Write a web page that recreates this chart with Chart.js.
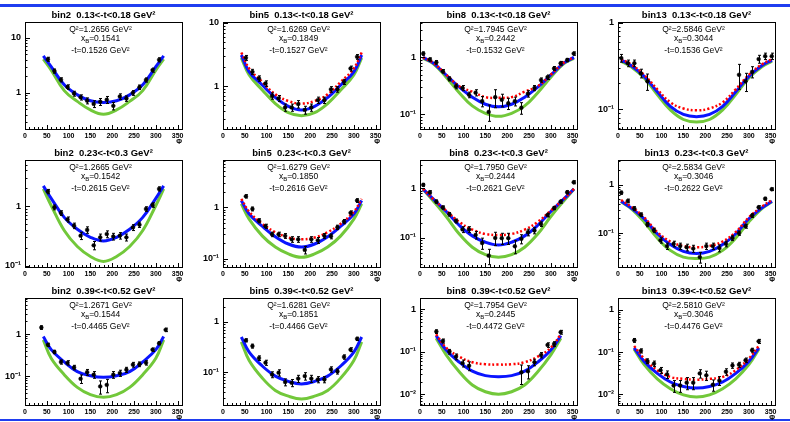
<!DOCTYPE html>
<html>
<head>
<meta charset="utf-8">
<script src="https://cdn.jsdelivr.net/npm/chart.js@4.4.0/dist/chart.umd.min.js"></script>
<style>
  html, body { margin: 0; padding: 0; background: #fff; }
  #page { position: relative; width: 790px; height: 422px; overflow: hidden; background: #fff; }
  #page canvas { position: absolute; }
  .rule { position: absolute; left: 0; width: 790px; background: #1f3df0; }
</style>
</head>
<body>
<div id="page">
  <div class="rule" style="top:4px;height:3px"></div>
  <div class="rule" style="top:419px;height:2px"></div>
</div>
<script>
// phi bin centres (deg)
const phiNarrow = [52.5, 67.5, 82.5, 97.5, 112.5, 127.5, 142.5, 157.5, 172.5, 187.5, 202.5, 217.5, 232.5, 247.5, 262.5, 277.5, 292.5, 307.5];
const phiWide = [7.5, 22.5, 37.5, 52.5, 67.5, 82.5, 97.5, 112.5, 127.5, 142.5, 157.5, 172.5, 187.5, 202.5, 217.5, 232.5, 247.5, 262.5, 277.5, 292.5, 307.5, 322.5, 337.5, 352.5];
const phiMid = [37.5, 52.5, 67.5, 82.5, 97.5, 112.5, 127.5, 142.5, 157.5, 172.5, 187.5, 202.5, 217.5, 232.5, 247.5, 262.5, 277.5, 292.5, 307.5, 322.5];
const phiB13t1 = [7.5, 22.5, 37.5, 52.5, 67.5, 277.5, 292.5, 307.5, 322.5, 337.5, 352.5];
const phiB8t3 = [37.5, 52.5, 67.5, 82.5, 97.5, 112.5, 232.5, 247.5, 262.5, 277.5, 292.5, 307.5, 322.5];

// phi nodes for the model curves
const curvePhiNarrow = [42, 60, 90, 120, 150, 180, 210, 240, 270, 300, 318];
const curvePhiFull = [7, 30, 60, 90, 120, 150, 180, 210, 240, 270, 300, 330, 353];
const curvePhiMid = [37, 60, 90, 120, 150, 180, 210, 240, 270, 300, 323];

// bin2, 0.13<-t<0.18
const b2t1Y = [4.1, 2.5, 1.73, 1.28, 0.97, 0.83, 0.72, 0.63, 0.69, 0.75, 0.58, 0.86, 0.79, 1.0, 1.27, 1.72, 2.6, 4.0];
const b2t1Err = [0.35, 0.22, 0.15, 0.12, 0.1, 0.09, 0.09, 0.09, 0.1, 0.11, 0.09, 0.1, 0.09, 0.1, 0.12, 0.15, 0.22, 0.35];
const b2t1Blue = [4.7, 3.0, 1.4, 0.92, 0.72, 0.67, 0.72, 0.92, 1.4, 3.0, 4.7];
const b2t1Green = [4.1, 2.6, 1.1, 0.7, 0.49, 0.41, 0.49, 0.7, 1.1, 2.6, 4.1];

// bin5, 0.13<-t<0.18
const b5t1Y = [2.8, 1.68, 1.32, 1.1, 0.7, 0.64, 0.46, 0.46, 0.52, 0.42, 0.46, 0.6, 0.6, 0.89, 0.89, 1.17, 1.9, 2.9];
const b5t1Err = [0.25, 0.16, 0.13, 0.11, 0.08, 0.07, 0.06, 0.06, 0.07, 0.06, 0.06, 0.07, 0.07, 0.09, 0.09, 0.11, 0.17, 0.25];
const b5t1Blue = [3.1, 1.68, 1.04, 0.66, 0.48, 0.42, 0.48, 0.66, 1.04, 1.68, 3.1];
const b5t1Red = [3.4, 1.9, 1.17, 0.74, 0.58, 0.53, 0.58, 0.74, 1.17, 1.9, 3.4];
const b5t1Green = [2.8, 1.5, 0.87, 0.53, 0.38, 0.34, 0.38, 0.53, 0.87, 1.5, 2.8];

// bin8, 0.13<-t<0.18
const b8t1Y = [1.17, 0.92, 0.82, 0.57, 0.42, 0.31, 0.29, 0.22, 0.24, 0.17, 0.11, 0.2, 0.18, 0.156, 0.17, 0.13, 0.23, 0.29, 0.4, 0.45, 0.64, 0.79, 0.9, 1.17];
const b8t1Err = [0.08, 0.06, 0.06, 0.04, 0.035, 0.03, 0.03, 0.025, 0.03, 0.035, 0.035, 0.07, 0.045, 0.035, 0.03, 0.03, 0.03, 0.03, 0.035, 0.04, 0.05, 0.06, 0.06, 0.08];
const b8t1Blue = [1.0, 0.8, 0.49, 0.3, 0.2, 0.15, 0.135, 0.15, 0.2, 0.3, 0.49, 0.8, 1.0];
const b8t1Red = [1.0, 0.81, 0.5, 0.31, 0.25, 0.2, 0.195, 0.2, 0.25, 0.31, 0.5, 0.81, 1.0];
const b8t1Green = [0.96, 0.78, 0.45, 0.24, 0.14, 0.104, 0.092, 0.104, 0.14, 0.24, 0.45, 0.78, 0.96];

// bin13, 0.13<-t<0.18
const b13t1Y = [0.39, 0.34, 0.34, 0.26, 0.21, 0.25, 0.21, 0.27, 0.38, 0.41, 0.41];
const b13t1Err = [0.04, 0.03, 0.03, 0.03, 0.045, 0.08, 0.05, 0.04, 0.04, 0.035, 0.035];
const b13t1Blue = [0.37, 0.32, 0.24, 0.159, 0.108, 0.087, 0.082, 0.087, 0.108, 0.159, 0.24, 0.32, 0.37];
const b13t1Red = [0.38, 0.33, 0.25, 0.17, 0.12, 0.102, 0.097, 0.102, 0.12, 0.17, 0.25, 0.33, 0.38];
const b13t1Green = [0.36, 0.31, 0.23, 0.148, 0.098, 0.076, 0.071, 0.076, 0.098, 0.148, 0.23, 0.31, 0.36];

// bin2, 0.23<-t<0.3
const b2t2Y = [1.77, 0.96, 0.77, 0.6, 0.47, 0.32, 0.4, 0.22, 0.3, 0.34, 0.31, 0.32, 0.3, 0.44, 0.49, 0.9, 1.05, 1.96];
const b2t2Err = [0.15, 0.09, 0.07, 0.06, 0.05, 0.045, 0.05, 0.035, 0.04, 0.045, 0.04, 0.04, 0.04, 0.05, 0.05, 0.08, 0.09, 0.16];
const b2t2Blue = [2.2, 1.36, 0.65, 0.41, 0.3, 0.26, 0.3, 0.41, 0.65, 1.36, 2.2];
const b2t2Green = [1.96, 1.03, 0.39, 0.21, 0.143, 0.118, 0.143, 0.21, 0.39, 1.03, 1.96];

// bin5, 0.23<-t<0.3
const b5t2Y = [1.63, 0.93, 0.55, 0.43, 0.3, 0.3, 0.28, 0.24, 0.24, 0.15, 0.24, 0.23, 0.28, 0.275, 0.41, 0.53, 0.78, 1.35];
const b5t2Err = [0.12, 0.08, 0.05, 0.04, 0.03, 0.03, 0.03, 0.03, 0.03, 0.025, 0.03, 0.03, 0.03, 0.03, 0.04, 0.05, 0.07, 0.11];
const b5t2Blue = [1.35, 0.74, 0.43, 0.27, 0.195, 0.17, 0.195, 0.27, 0.43, 0.74, 1.35];
const b5t2Red = [1.45, 0.82, 0.48, 0.33, 0.26, 0.24, 0.26, 0.33, 0.48, 0.82, 1.45];
const b5t2Green = [1.16, 0.59, 0.28, 0.17, 0.125, 0.108, 0.125, 0.17, 0.28, 0.59, 1.16];

// bin8, 0.23<-t<0.3
const b8t2Y = [1.17, 0.83, 0.54, 0.41, 0.3, 0.22, 0.148, 0.148, 0.115, 0.079, 0.044, 0.1, 0.099, 0.099, 0.068, 0.096, 0.13, 0.141, 0.19, 0.29, 0.4, 0.54, 0.83, 1.32];
const b8t2Err = [0.08, 0.06, 0.04, 0.03, 0.025, 0.02, 0.02, 0.02, 0.02, 0.02, 0.015, 0.03, 0.025, 0.025, 0.02, 0.02, 0.02, 0.02, 0.02, 0.025, 0.03, 0.04, 0.06, 0.09];
const b8t2Blue = [0.97, 0.61, 0.34, 0.18, 0.11, 0.082, 0.072, 0.082, 0.11, 0.18, 0.34, 0.61, 0.97];
const b8t2Red = [0.97, 0.61, 0.355, 0.21, 0.147, 0.12, 0.115, 0.12, 0.147, 0.21, 0.355, 0.61, 0.97];
const b8t2Green = [0.95, 0.56, 0.27, 0.12, 0.065, 0.046, 0.041, 0.046, 0.065, 0.12, 0.27, 0.56, 0.95];

// bin13, 0.23<-t<0.3
const b13t2Y = [0.68, 0.46, 0.32, 0.24, 0.15, 0.114, 0.071, 0.054, 0.06, 0.054, 0.051, 0.048, 0.032, 0.054, 0.054, 0.049, 0.06, 0.079, 0.1, 0.139, 0.23, 0.34, 0.51, 0.8];
const b13t2Err = [0.05, 0.04, 0.03, 0.02, 0.015, 0.012, 0.009, 0.008, 0.008, 0.008, 0.008, 0.008, 0.008, 0.008, 0.008, 0.008, 0.008, 0.009, 0.01, 0.013, 0.02, 0.025, 0.035, 0.05];
const b13t2Blue = [0.45, 0.33, 0.197, 0.097, 0.058, 0.042, 0.038, 0.042, 0.058, 0.097, 0.197, 0.33, 0.45];
const b13t2Red = [0.48, 0.35, 0.21, 0.105, 0.067, 0.054, 0.051, 0.054, 0.067, 0.105, 0.21, 0.35, 0.48];
const b13t2Green = [0.44, 0.32, 0.17, 0.079, 0.044, 0.032, 0.03, 0.032, 0.044, 0.079, 0.17, 0.32, 0.44];

// bin2, 0.39<-t<0.52
const b2t3Y = [1.44, 0.56, 0.38, 0.22, 0.21, 0.163, 0.088, 0.126, 0.11, 0.058, 0.063, 0.11, 0.12, 0.144, 0.19, 0.195, 0.21, 0.43, 0.61, 1.27];
const b2t3Err = [0.14, 0.05, 0.035, 0.025, 0.025, 0.02, 0.02, 0.02, 0.02, 0.02, 0.022, 0.02, 0.02, 0.02, 0.025, 0.025, 0.025, 0.04, 0.05, 0.12];
const b2t3Blue = [0.88, 0.43, 0.22, 0.13, 0.104, 0.095, 0.104, 0.13, 0.22, 0.43, 0.88];
const b2t3Green = [0.73, 0.27, 0.11, 0.055, 0.037, 0.032, 0.037, 0.055, 0.11, 0.27, 0.73];

// bin5, 0.39<-t<0.52
const b5t3Y = [0.43, 0.33, 0.19, 0.154, 0.089, 0.097, 0.063, 0.061, 0.074, 0.083, 0.074, 0.071, 0.071, 0.113, 0.103, 0.2, 0.28, 0.46];
const b5t3Err = [0.03, 0.03, 0.02, 0.018, 0.012, 0.014, 0.01, 0.01, 0.012, 0.014, 0.012, 0.01, 0.01, 0.014, 0.012, 0.02, 0.025, 0.035];
const b5t3Blue = [0.5, 0.25, 0.132, 0.083, 0.065, 0.058, 0.065, 0.083, 0.132, 0.25, 0.5];
const b5t3Green = [0.4, 0.17, 0.076, 0.043, 0.033, 0.029, 0.033, 0.043, 0.076, 0.17, 0.4];

// bin8, 0.39<-t<0.52
const b8t3Y = [0.3, 0.18, 0.101, 0.077, 0.054, 0.047, 0.033, 0.035, 0.057, 0.084, 0.145, 0.153, 0.29];
const b8t3Err = [0.03, 0.02, 0.013, 0.012, 0.01, 0.011, 0.016, 0.012, 0.01, 0.012, 0.018, 0.02, 0.03];
const b8t3Blue = [0.24, 0.11, 0.057, 0.035, 0.0275, 0.026, 0.0275, 0.035, 0.057, 0.11, 0.24];
const b8t3Red = [0.26, 0.125, 0.077, 0.057, 0.051, 0.05, 0.051, 0.057, 0.077, 0.125, 0.26];
const b8t3Green = [0.21, 0.085, 0.034, 0.0166, 0.0115, 0.01, 0.0115, 0.0166, 0.034, 0.085, 0.21];

// bin13, 0.39<-t<0.52
const b13t3Y = [0.19, 0.107, 0.061, 0.053, 0.037, 0.0295, 0.016, 0.016, 0.0187, 0.0187, 0.031, 0.028, 0.0167, 0.021, 0.034, 0.048, 0.05, 0.064, 0.111, 0.18];
const b13t3Err = [0.02, 0.012, 0.008, 0.008, 0.006, 0.006, 0.005, 0.005, 0.006, 0.006, 0.007, 0.007, 0.005, 0.005, 0.006, 0.007, 0.007, 0.008, 0.012, 0.02];
const b13t3Blue = [0.126, 0.06, 0.031, 0.0194, 0.0152, 0.0139, 0.0152, 0.0194, 0.031, 0.06, 0.126];
const b13t3Red = [0.14, 0.07, 0.037, 0.0255, 0.023, 0.022, 0.023, 0.0255, 0.037, 0.07, 0.14];
const b13t3Green = [0.117, 0.05, 0.023, 0.0134, 0.0096, 0.0085, 0.0096, 0.0134, 0.023, 0.05, 0.117];

// labels
const binNames = ['bin2', 'bin5', 'bin8', 'bin13'];
const tRanges = ['0.13<-t<0.18', '0.23<-t<0.3', '0.39<-t<0.52'];
const q2Vals = ['1.2656', '1.6269', '1.7945', '2.5846', '1.2665', '1.6279', '1.7950', '2.5834', '1.2671', '1.6281', '1.7954', '2.5810'];
const xbVals = ['0.1541', '0.1849', '0.2442', '0.3044', '0.1542', '0.1850', '0.2444', '0.3046', '0.1544', '0.1851', '0.2445', '0.3046'];
const tVals = ['0.1526', '0.1527', '0.1532', '0.1536', '0.2615', '0.2616', '0.2621', '0.2622', '0.4465', '0.4466', '0.4472', '0.4476'];
const xTicks = [0, 50, 100, 150, 200, 250, 300, 350];

const panels = [
  { phi: phiNarrow, y: b2t1Y, err: b2t1Err, cphi: curvePhiNarrow, blue: b2t1Blue, red: null, green: b2t1Green, yMin: 0.22, yMax: 19.5 },
  { phi: phiNarrow, y: b5t1Y, err: b5t1Err, cphi: curvePhiNarrow, blue: b5t1Blue, red: b5t1Red, green: b5t1Green, yMin: 0.21, yMax: 10.3 },
  { phi: phiWide, y: b8t1Y, err: b8t1Err, cphi: curvePhiFull, blue: b8t1Blue, red: b8t1Red, green: b8t1Green, yMin: 0.055, yMax: 4.2 },
  { phi: phiB13t1, y: b13t1Y, err: b13t1Err, cphi: curvePhiFull, blue: b13t1Blue, red: b13t1Red, green: b13t1Green, yMin: 0.059, yMax: 1.02 },
  { phi: phiNarrow, y: b2t2Y, err: b2t2Err, cphi: curvePhiNarrow, blue: b2t2Blue, red: null, green: b2t2Green, yMin: 0.095, yMax: 6.0 },
  { phi: phiNarrow, y: b5t2Y, err: b5t2Err, cphi: curvePhiNarrow, blue: b5t2Blue, red: b5t2Red, green: b5t2Green, yMin: 0.07, yMax: 8.2 },
  { phi: phiWide, y: b8t2Y, err: b8t2Err, cphi: curvePhiFull, blue: b8t2Blue, red: b8t2Red, green: b8t2Green, yMin: 0.026, yMax: 3.7 },
  { phi: phiWide, y: b13t2Y, err: b13t2Err, cphi: curvePhiFull, blue: b13t2Blue, red: b13t2Red, green: b13t2Green, yMin: 0.02, yMax: 3.2 },
  { phi: phiMid, y: b2t3Y, err: b2t3Err, cphi: curvePhiNarrow, blue: b2t3Blue, red: null, green: b2t3Green, yMin: 0.021, yMax: 7.2 },
  { phi: phiNarrow, y: b5t3Y, err: b5t3Err, cphi: curvePhiNarrow, blue: b5t3Blue, red: null, green: b5t3Green, yMin: 0.022, yMax: 3.0 },
  { phi: phiB8t3, y: b8t3Y, err: b8t3Err, cphi: curvePhiMid, blue: b8t3Blue, red: b8t3Red, green: b8t3Green, yMin: 0.0056, yMax: 1.85 },
  { phi: phiMid, y: b13t3Y, err: b13t3Err, cphi: curvePhiMid, blue: b13t3Blue, red: b13t3Red, green: b13t3Green, yMin: 0.0055, yMax: 1.93 }
];

const FONT = '"Liberation Sans", Arial, sans-serif';
Chart.defaults.font.family = FONT;
Chart.defaults.color = '#000';

const SUP = { '-': '\u207B', '0': '\u2070', '1': '\u00B9', '2': '\u00B2', '3': '\u00B3' };
function decadeLabel(v) {
  const e = Math.round(Math.log10(v));
  if (e === 0) return '1';
  if (e === 1) return '10';
  return '10' + String(e).split('').map(ch => SUP[ch] || ch).join('');
}

const pts = (xs, ys) => xs.map((x, i) => ({ x: x, y: ys[i] }));

// frame, ticks, error bars and the text block, ROOT style
function rootPad(p, idx) {
  const row = Math.floor(idx / 4), col = idx % 4;
  return {
    id: 'rootPad',
    beforeDatasetDraw(chart, args) {
      if (args.index !== 0) return;
      const { ctx, chartArea: a, scales: { x, y } } = chart;
      ctx.save();
      ctx.beginPath();
      ctx.rect(a.left, a.top, a.width, a.height);
      ctx.clip();
      ctx.strokeStyle = '#000';
      ctx.lineWidth = 1;
      p.phi.forEach((phi, i) => {
        const px = Math.round(x.getPixelForValue(phi)) + 0.5;
        const top = y.getPixelForValue(p.y[i] + p.err[i]);
        const bot = y.getPixelForValue(Math.max(p.y[i] - p.err[i], p.yMin * 0.5));
        ctx.beginPath();
        ctx.moveTo(px, top); ctx.lineTo(px, bot);
        ctx.moveTo(px - 1.5, top); ctx.lineTo(px + 1.5, top);
        ctx.moveTo(px - 1.5, bot); ctx.lineTo(px + 1.5, bot);
        ctx.stroke();
      });
      ctx.restore();
    },
    afterDraw(chart) {
      const { ctx, chartArea: a, scales: { x, y } } = chart;
      ctx.save();
      ctx.strokeStyle = '#000';
      ctx.lineWidth = 1;
      ctx.strokeRect(Math.round(a.left) + 0.5, Math.round(a.top) + 0.5, Math.round(a.width), Math.round(a.height));

      ctx.beginPath();
      const e0 = Math.floor(Math.log10(p.yMin)), e1 = Math.ceil(Math.log10(p.yMax));
      for (let e = e0; e <= e1; e++) {
        for (let m = 1; m <= 9; m++) {
          const v = m * Math.pow(10, e);
          if (v < p.yMin || v > p.yMax) continue;
          const py = Math.round(y.getPixelForValue(v)) + 0.5;
          const len = m === 1 ? 5 : 2.5;
          ctx.moveTo(a.left, py); ctx.lineTo(a.left + len, py);
        }
      }
      for (let d = 0; d <= 360; d += 10) {
        const px = Math.round(x.getPixelForValue(d)) + 0.5;
        const len = d % 50 === 0 ? 4 : 2;
        ctx.moveTo(px, a.bottom); ctx.lineTo(px, a.bottom - len);
      }
      ctx.stroke();

      ctx.fillStyle = '#000';
      ctx.textBaseline = 'middle';
      ctx.textAlign = 'center';
      const cx = (a.left + a.right) / 2;
      ctx.font = 'bold 9.5px ' + FONT;
      ctx.fillText(binNames[col] + '  ' + tRanges[row] + ' GeV\u00B2', cx, 15.5);

      const tx = cx - 3;
      ctx.font = '8.5px ' + FONT;
      ctx.fillText('Q\u00B2=' + q2Vals[idx] + ' GeV\u00B2', tx, a.top + 7.5);
      ctx.fillText('-t=' + tVals[idx] + ' GeV\u00B2', tx, a.top + 29);

      // x with subscript B
      const rest = '=' + xbVals[idx];
      ctx.font = '8.5px ' + FONT;
      const wx = ctx.measureText('x').width, wr = ctx.measureText(rest).width;
      ctx.font = '6px ' + FONT;
      const wb = ctx.measureText('B').width;
      const sx = tx - (wx + wb + wr) / 2;
      const ly = a.top + 16.5;
      ctx.textAlign = 'left';
      ctx.font = '8.5px ' + FONT;
      ctx.fillText('x', sx, ly);
      ctx.font = '6px ' + FONT;
      ctx.fillText('B', sx + wx, ly + 2.5);
      ctx.font = '8.5px ' + FONT;
      ctx.fillText(rest, sx + wx + wb, ly);
      ctx.restore();
    }
  };
}

const page = document.getElementById('page');

panels.forEach((p, idx) => {
  const row = Math.floor(idx / 4), col = idx % 4;
  const cv = document.createElement('canvas');
  cv.width = 197;
  cv.height = 150;
  cv.style.width = '197px';
  cv.style.height = '150px';
  cv.style.left = Math.round(197.5 * col) + 'px';
  cv.style.top = (138 * row) + 'px';
  page.appendChild(cv);

  const datasets = [{
    data: pts(p.phi, p.y),
    showLine: false,
    pointRadius: 1.9,
    pointBackgroundColor: '#000',
    pointBorderColor: '#000',
    pointBorderWidth: 0.5,
    pointHoverRadius: 0
  }];
  if (p.red) {
    datasets.push({
      data: pts(p.cphi, p.red),
      borderColor: '#ff0000',
      borderWidth: 2.5,
      borderDash: [2, 2.2],
      borderCapStyle: 'butt',
      pointRadius: 0,
      tension: 0.4,
      fill: false
    });
  }
  datasets.push({
    data: pts(p.cphi, p.blue),
    borderColor: '#0a14ff',
    borderWidth: 3,
    pointRadius: 0,
    tension: 0.4,
    fill: false
  });
  datasets.push({
    data: pts(p.cphi, p.green),
    borderColor: '#72c83a',
    borderWidth: 3,
    pointRadius: 0,
    tension: 0.4,
    fill: false
  });

  new Chart(cv, {
    type: 'line',
    data: { datasets: datasets },
    options: {
      responsive: false,
      animation: false,
      events: [],
      layout: { padding: { left: 0, right: 15, top: 22, bottom: 0 } },
      plugins: { legend: { display: false }, tooltip: { enabled: false } },
      scales: {
        x: {
          type: 'linear',
          min: 0,
          max: 360,
          grid: { display: false, drawTicks: false },
          border: { display: false },
          afterBuildTicks: (axis) => { axis.ticks = xTicks.map(v => ({ value: v })); },
          afterFit: (axis) => { axis.height = 21; },
          ticks: { font: { size: 7, weight: 'bold' }, padding: 3, maxRotation: 0, autoSkip: false, color: '#000' },
          title: { display: true, text: '\u03A6', align: 'end', color: '#000', font: { size: 7, weight: 'bold' }, padding: { top: 0, bottom: 4 } }
        },
        y: {
          type: 'logarithmic',
          min: p.yMin,
          max: p.yMax,
          grid: { display: false, drawTicks: false },
          border: { display: false },
          afterBuildTicks: (axis) => {
            const ticks = [];
            for (let e = Math.ceil(Math.log10(p.yMin)); e <= Math.floor(Math.log10(p.yMax) + 1e-9); e++) {
              ticks.push({ value: Math.pow(10, e) });
            }
            axis.ticks = ticks;
          },
          afterFit: (axis) => { axis.width = 25; },
          ticks: { font: { size: 9, weight: 'bold' }, padding: 4, color: '#000', callback: (v) => decadeLabel(v) }
        }
      }
    },
    plugins: [rootPad(p, idx)]
  });
});
</script>
</body>
</html>
